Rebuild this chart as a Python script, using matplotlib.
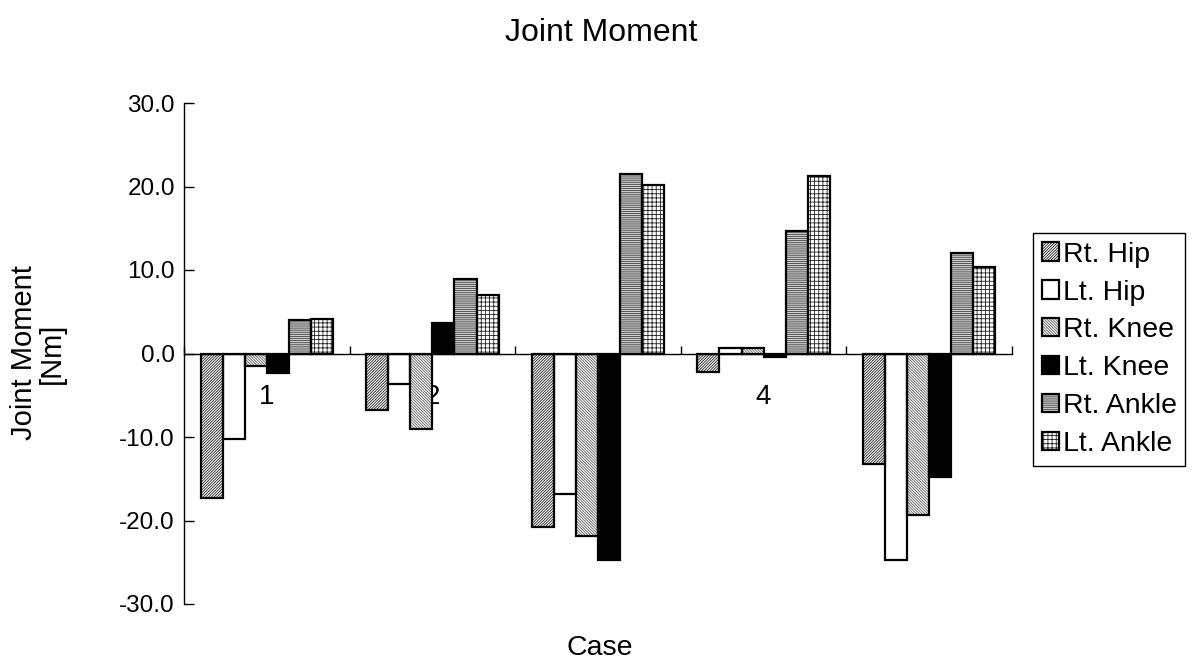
import numpy as np
import matplotlib.pyplot as plt
from matplotlib.patches import Patch

plt.rcParams['font.family'] = ['Liberation Sans', 'DejaVu Sans']
plt.rcParams['hatch.linewidth'] = 0.6

# Joint moment per case [Nm]
cases = ['1', '2', '3', '4', '5']
rt_hip = [-17.3, -6.8, -20.8, -2.2, -13.2]
lt_hip = [-10.2, -3.6, -16.8, 0.7, -24.7]
rt_knee = [-1.5, -9.0, -21.9, 0.6, -19.3]
lt_knee = [-2.3, 3.7, -24.7, -0.4, -14.8]
rt_ankle = [4.0, 8.9, 21.5, 14.7, 12.0]
lt_ankle = [4.1, 7.0, 20.2, 21.2, 10.3]

series = [rt_hip, lt_hip, rt_knee, lt_knee, rt_ankle, lt_ankle]
names = ['Rt. Hip', 'Lt. Hip', 'Rt. Knee', 'Lt. Knee', 'Rt. Ankle', 'Lt. Ankle']
# (face, hatch, hatch colour)
styles = [
    ('white', '/' * 12, '#202020'),
    ('white', '', 'black'),
    ('white', '\\' * 12, '#606060'),
    ('black', '', 'black'),
    ('#d0d0d0', '-' * 8, '#404040'),
    ('white', '+' * 4, '#202020'),
]

fig = plt.figure(figsize=(12.02, 6.66), dpi=100)
ax = fig.add_axes([184 / 1202, 1 - 604 / 666, (1012 - 184) / 1202, (604 - 103) / 666])

x = np.arange(1, len(cases) + 1)
w = 1 / 7.5
handles = []
for i, (vals, name, (fc, hatch, hc)) in enumerate(zip(series, names, styles)):
    pos = x - 0.5 + 0.75 * w + i * w + w / 2
    # hatched fill first, then a plain black outline on top
    ax.bar(pos, vals, w, facecolor=fc, hatch=hatch, edgecolor=hc, linewidth=0, zorder=2)
    ax.bar(pos, vals, w, facecolor='none', edgecolor='black', linewidth=1.6, zorder=3)
    h1 = Patch(facecolor=fc, hatch=hatch, edgecolor=hc, linewidth=0)
    h2 = Patch(facecolor='none', edgecolor='black', linewidth=1.6)
    handles.append((h1, h2))

ax.set_xlim(0.5, len(cases) + 0.5)
ax.set_ylim(-30, 30)
ax.set_yticks(np.arange(-30, 31, 10))
ax.yaxis.set_major_formatter(plt.FormatStrFormatter('%.1f'))
ax.tick_params(axis='y', direction='in', length=7, width=1, labelsize=17.5, pad=6.5)

ax.spines['top'].set_visible(False)
ax.spines['right'].set_visible(False)
ax.spines['left'].set_linewidth(1)
ax.spines['bottom'].set_position(('data', 0))
ax.spines['bottom'].set_linewidth(1)
ax.spines['bottom'].set_zorder(4)

ax.set_xticks(x)
ax.set_xticklabels(cases)
ax.set_xticks(np.arange(0.5, len(cases) + 1), minor=True)
ax.tick_params(axis='x', which='major', length=0, labelsize=20, pad=22)
ax.tick_params(axis='x', which='minor', direction='in', length=6, width=1)

fig.text(601 / 1202, 1 - 33 / 666, 'Joint Moment', ha='center', va='center', fontsize=23)
fig.text(38 / 1202, 1 - 353 / 666, 'Joint Moment\n[Nm]', ha='center', va='center',
         rotation=90, fontsize=21, linespacing=1.0)
fig.text(600 / 1202, 1 - 648 / 666, 'Case', ha='center', va='center', fontsize=20.5)

leg = fig.legend(handles, names, loc='upper left',
                 bbox_to_anchor=(1033 / 1202, 1 - 233 / 666), borderaxespad=0,
                 fontsize=20.5, handlelength=0.6, handleheight=0.6, handletextpad=0.15,
                 labelspacing=0.42, borderpad=0.3, fancybox=False, framealpha=1)
leg.get_frame().set_edgecolor('black')
leg.get_frame().set_linewidth(1)

fig.savefig('out.png', dpi=100)
